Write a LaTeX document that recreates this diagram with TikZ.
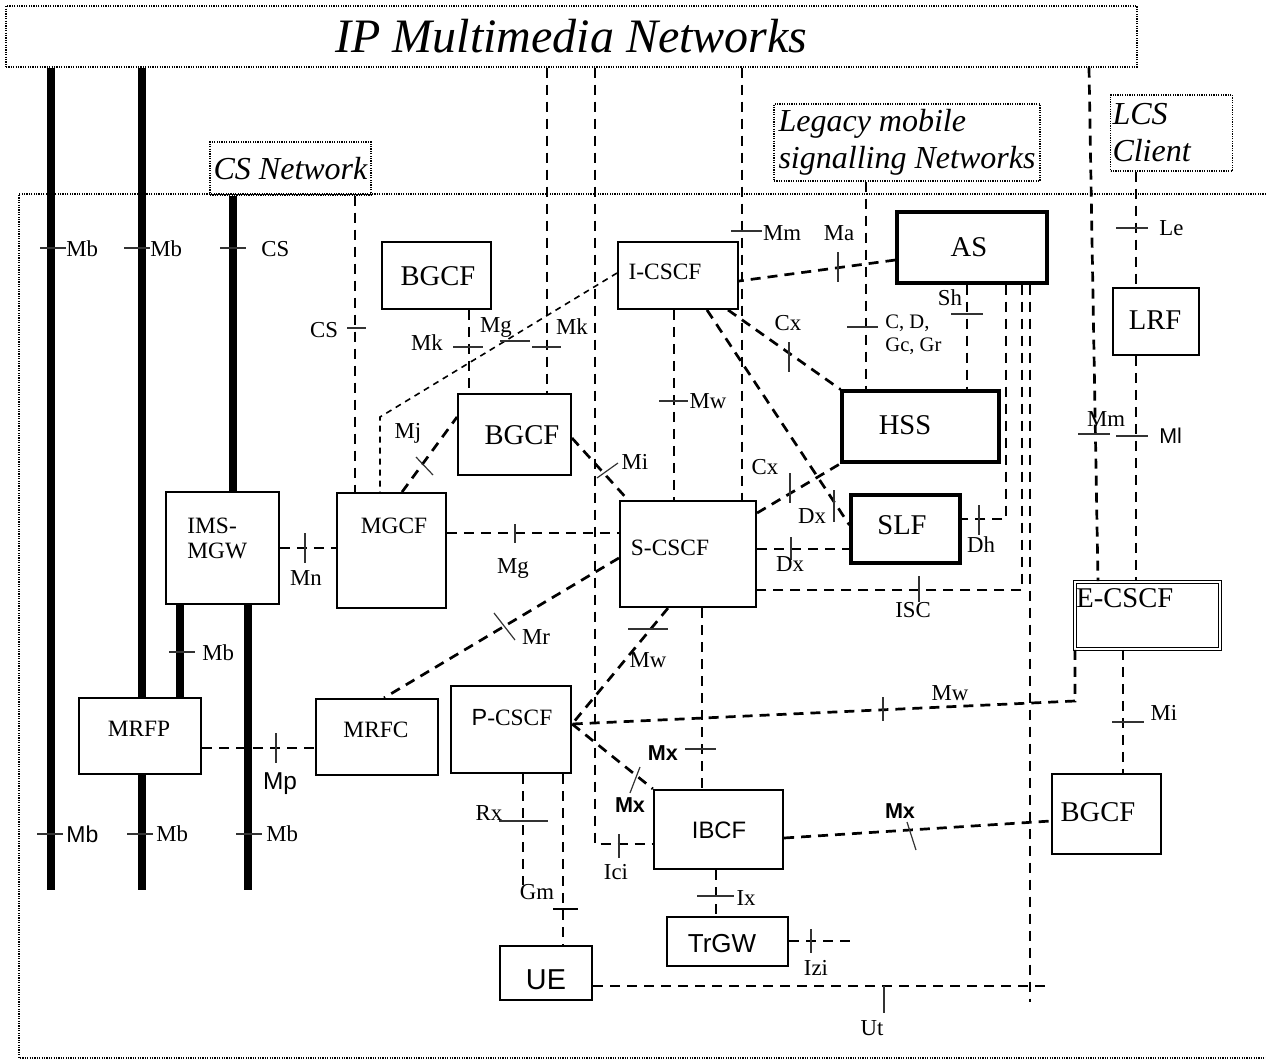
\documentclass[tikz,border=0pt]{standalone}
\usepackage{fontspec}
\setmainfont{Liberation Serif}
\newfontfamily\arialfont{Liberation Sans}
\newcommand\titlefont{\fontsize{24}{28}\selectfont\itshape}
\newcommand\netfont{\fontsize{16}{18.5}\selectfont\itshape}
\newcommand\boxbig{\fontsize{14.3}{16}\selectfont}
\newcommand\boxmed{\fontsize{11.7}{12.5}\selectfont}
\newcommand\smalllab{\fontsize{11.4}{13}\selectfont}
\newcommand\tinylab{\fontsize{10.3}{11.5}\selectfont}
\newcommand\mxfont{\fontsize{10.8}{12}\selectfont\arialfont\bfseries}

\begin{document}
\begin{tikzpicture}[x=0.5pt,y=-0.5pt,
    box/.style={draw,line width=0.95pt,inner sep=0pt},
    thickbox/.style={draw,line width=1.6pt,inner sep=0pt},
    netbox/.style={draw,line width=0.7pt,dash pattern=on 0.6pt off 0.6pt,inner sep=1pt},
    frame/.style={line width=0.7pt,dash pattern=on 0.6pt off 0.6pt},
    bearer/.style={line width=4pt},
    sig/.style={line width=1.35pt,dash pattern=on 5pt off 3.5pt},
    sigthin/.style={line width=0.8pt,dash pattern=on 3pt off 2.5pt},
    tick/.style={line width=0.6pt,black!80},
    lab/.style={font=\smalllab,inner sep=0pt},
    labsf/.style={inner sep=0pt,font=\fontsize{11.5}{13}\selectfont\arialfont},
    labmx/.style={inner sep=0pt,font=\mxfont}]
    \useasboundingbox (0,0) rectangle (1266,1061);

    % networks outside
    \node[netbox,minimum width=565.5pt,minimum height=30.5pt,font=\titlefont] (topnet) at (571.5,36.5) {IP Multimedia Networks};
    \node[netbox,minimum width=80.5pt,minimum height=26.5pt,font=\netfont] (csnet) at (290.5,168.5) {CS Network};
    \node[netbox,minimum width=133pt,minimum height=38.5pt,font=\netfont,align=left] (legacy) at (907,142.5) {Legacy mobile\\signalling Networks};
    \node[netbox,minimum height=38pt,font=\netfont,align=left,text width=59pt] (lcs) at (1171.5,133) {LCS\\Client};
    \draw[frame] (1266,194) -- (19,194) -- (19,1058) -- (1266,1058);

    % functional entities
    \node[box,minimum width=54.5pt,minimum height=33.5pt] (bgcfA) at (436.5,275.5) {};
    \node[box,minimum width=60pt,minimum height=33.5pt] (icscf) at (678,275.5) {};
    \node[thickbox,minimum width=75pt,minimum height=35.5pt] (as) at (972,247.5) {};
    \node[box,minimum width=43pt,minimum height=33.5pt] (lrf) at (1156,321.5) {};
    \node[box,minimum width=56.5pt,minimum height=40.5pt] (bgcfB) at (514.5,434.5) {};
    \node[thickbox,minimum width=78.5pt,minimum height=35.5pt] (hss) at (920.5,426.5) {};
    \node[thickbox,minimum width=54.5pt,minimum height=34pt] (slf) at (905.5,529) {};
    \node[box,minimum width=56.5pt,minimum height=56pt] (imsmgw) at (222.5,548) {};
    \node[box,minimum width=54.5pt,minimum height=57.5pt] (mgcf) at (391.5,550.5) {};
    \node[box,line width=1.1pt,minimum width=68pt,minimum height=53pt] (scscf) at (688,554) {};
    \node[draw,double,line width=0.8pt,double distance=0.8pt,inner sep=0pt,minimum width=72.5pt,minimum height=33.5pt] (ecscf) at (1147.5,615.5) {};
    \node[box,line width=1.1pt,minimum width=61pt,minimum height=38pt] (mrfp) at (140,736) {};
    \node[box,line width=1.1pt,minimum width=61pt,minimum height=38pt] (mrfc) at (377,737) {};
    \node[box,line width=1.1pt,minimum width=60pt,minimum height=43.5pt] (pcscf) at (511,729.5) {};
    \node[box,line width=1.1pt,minimum width=64.5pt,minimum height=39.5pt] (ibcf) at (718.5,829.5) {};
    \node[box,minimum width=54.5pt,minimum height=40pt] (bgcfC) at (1106.5,814) {};
    \node[box,line width=1.1pt,minimum width=60.5pt,minimum height=24.5pt] (trgw) at (727.5,941.5) {};
    \node[box,line width=1.3pt,minimum width=46pt,minimum height=27pt] (ue) at (546,973) {};

    \node[font=\boxbig] (bgcfAt) at (438,276) {BGCF};
    \node[font=\boxmed] (icscft) at (665,272) {I-CSCF};
    \node[font=\boxbig] (ast) at (969,247) {AS};
    \node[font=\boxbig] (lrft) at (1155,320) {LRF};
    \node[font=\boxbig] (bgcfBt) at (522,435) {BGCF};
    \node[font=\boxbig] (hsst) at (905,425) {HSS};
    \node[font=\boxbig] (slft) at (902,525) {SLF};
    \node[font=\boxmed,align=left,anchor=west,inner sep=0pt] (imsmgwt) at (187,538) {IMS-\\MGW};
    \node[font=\boxmed] (mgcft) at (394,526) {MGCF};
    \node[font=\boxmed] (scscft) at (670,548) {S-CSCF};
    \node[font=\boxbig,anchor=west,inner sep=0pt] (ecscft) at (1076,598) {E-CSCF};
    \node[font=\boxmed] (mrfpt) at (139,729) {MRFP};
    \node[font=\boxmed] (mrfct) at (376,730) {MRFC};
    \node[font=\boxmed] (pcscft) at (512,718) {{\arialfont P}-CSCF};
    \node[font=\fontsize{11.9}{13}\selectfont\arialfont] (ibcft) at (719,830) {IBCF};
    \node[font=\boxbig] (bgcfCt) at (1098,812) {BGCF};
    \node[font=\fontsize{13}{15}\selectfont\arialfont] (trgwt) at (722,944) {TrGW};
    \node[font=\fontsize{14.4}{16}\selectfont\arialfont] (uet) at (546,980) {UE};

    % bearer paths
    \coordinate (endA) at (51,890);
    \coordinate (endB) at (142,890);
    \coordinate (endC) at (248,890);
    \draw[bearer] (topnet.south -| endA) -- (endA);
    \draw[bearer] (topnet.south -| endB) -- (mrfp.north -| endB);
    \draw[bearer] (mrfp.south -| endB) -- (endB);
    \draw[bearer] (csnet.south -| 233,0) -- (imsmgw.north -| 233,0);
    \draw[bearer] (imsmgw.south -| 180,0) -- (mrfp.north -| 180,0);
    \draw[bearer] (imsmgw.south -| endC) -- (endC);
    \foreach \x/\y in {53/248,137/248,233/248,182/652,50/834,140/834,249/834}
        \draw[tick] (\x-13,\y) -- (\x+13,\y);
    \node[lab,anchor=west] (lMbA) at (66,249) {Mb};
    \node[lab,anchor=west] (lMbB) at (150,249) {Mb};
    \node[lab,anchor=west] (lCSA) at (261,249) {CS};
    \node[lab,anchor=west] (lMbC) at (202,653) {Mb};
    \node[labsf,anchor=west] (lMbD) at (66,834) {Mb};
    \node[lab,anchor=west] (lMbE) at (156,834) {Mb};
    \node[lab,anchor=west] (lMbF) at (266,834) {Mb};

    % signalling paths
    \coordinate (utend) at (1030,1002);
    \coordinate (utfree) at (1049,986);
    \coordinate (izifree) at (854,941);
    \coordinate (rxfree) at (523,885);
    \draw[sig] (csnet.south -| 355,0) -- (mgcf.north -| 355,0);
    \draw[sig] (bgcfA.south -| 469,0) -- (bgcfB.north -| 469,0);
    \draw[sig] (topnet.south -| 547,0) -- (bgcfB.north -| 547,0);
    \draw[sig] (topnet.south -| 595,0) -- (595,844) -- (ibcf.west |- 0,844);
    \draw[sig] (topnet.south -| 742,0) -- (scscf.north -| 742,0);
    \draw[sig] (legacy.south -| 866,0) -- (hss.north -| 866,0);
    \draw[sig] (topnet.south -| 1089,0) -- (ecscf.north -| 1098,0);
    \draw[sig] (lcs.south -| 1136,0) -- (lrf.north -| 1136,0);
    \draw[sig] (lrf.south -| 1136,0) -- (ecscf.north -| 1136,0);
    \draw[sig] (ecscf.south -| 1123,0) -- (bgcfC.north -| 1123,0);
    \draw[sig] (ecscf.south -| 1075,0) -- (1075,701) -- (pcscf.east |- 0,724);
    \draw[sig] (as.west |- 0,260) -- (icscf.east |- 0,281);
    \draw[sig] (as.south -| 967,0) -- (hss.north -| 967,0);
    \draw[sig] (as.south -| 1006,0) -- (1006,519) -- (slf.east |- 0,519);
    \draw[sig] (as.south -| 1022,0) -- (1022,590) -- (scscf.east |- 0,590);
    \draw[sig] (as.south -| utend) -- (utend);
    \draw[sig] (ue.east |- 0,986) -- (utfree);
    \draw[sig] (icscf.south -| 674,0) -- (scscf.north -| 674,0);
    \draw[sig] (icscf.south -| 728,0) -- (hss.north west);
    \draw[sig] (icscf.south -| 707,0) -- (slf.west |- 0,525);
    \draw[sig] (scscf.east |- 0,513) -- (hss.south west);
    \draw[sig] (scscf.east |- 0,549) -- (slf.west |- 0,549);
    \draw[sig] (mgcf.east |- 0,533) -- (scscf.west |- 0,533);
    \draw[sig] (imsmgw.east |- 0,548) -- (mgcf.west |- 0,548);
    \draw[sig] (bgcfB.east |- 0,438) -- (scscf.north -| 628,0);
    \draw[sig] (mgcf.north -| 402,0) -- (bgcfB.west |- 0,417);
    \draw[sigthin] (icscf.west |- 0,273) -- (380,417) -- (mgcf.north -| 380,0);
    \draw[sig] (scscf.west |- 0,558) -- (mrfc.north -| 384,0);
    \draw[sig] (scscf.south -| 668,0) -- (pcscf.east |- 0,724);
    \draw[sig] (scscf.south -| 702,0) -- (ibcf.north -| 702,0);
    \draw[sig] (pcscf.east |- 0,724) -- (ibcf.north west);
    \draw[sig] (ibcf.east |- 0,838) -- (bgcfC.west |- 0,821);
    \draw[sig] (ibcf.south -| 716,0) -- (trgw.north -| 716,0);
    \draw[sig] (trgw.east |- 0,941) -- (izifree);
    \draw[sig] (mrfp.east |- 0,748) -- (mrfc.west |- 0,748);
    \draw[sig] (pcscf.south -| rxfree) -- (rxfree);
    \draw[sig] (pcscf.south -| 563,0) -- (ue.north -| 563,0);

    % reference points
    \draw[tick] (347,328) -- (366,328);
    \draw[tick] (453,347) -- (483,347);
    \draw[tick] (532,347) -- (561,347);
    \draw[tick] (500,341) -- (530,341);
    \draw[tick] (619,834) -- (619,858);
    \draw[tick] (731,231) -- (762,231);
    \draw[tick] (847,327) -- (878,327);
    \draw[tick] (1078,434) -- (1110,434);
    \draw[tick] (1116,228) -- (1148,228);
    \draw[tick] (1116,436) -- (1148,436);
    \draw[tick] (1112,722) -- (1144,722);
    \draw[tick] (883,697) -- (883,721);
    \draw[tick] (838,252) -- (838,282);
    \draw[tick] (951,314) -- (983,314);
    \draw[tick] (979,505) -- (979,535);
    \draw[tick] (919,576) -- (919,602);
    \draw[tick] (884,986) -- (884,1013);
    \draw[tick] (659,401) -- (688,401);
    \draw[tick] (789,342) -- (789,372);
    \draw[tick] (834,490) -- (834,522);
    \draw[tick] (790,473) -- (790,503);
    \draw[tick] (791,537) -- (791,560);
    \draw[tick] (515,524) -- (515,543);
    \draw[tick] (305,533) -- (305,563);
    \draw[tick] (597,478) -- (618,463);
    \draw[tick] (416,457) -- (433,475);
    \draw[tick] (494,613) -- (515,640);
    \draw[tick] (628,629) -- (668,629);
    \draw[tick] (685,749) -- (716,749);
    \draw[tick] (630,793) -- (640,767);
    \draw[tick] (907,822) -- (916,850);
    \draw[tick] (697,896) -- (734,896);
    \draw[tick] (811,929) -- (811,953);
    \draw[tick] (276,733) -- (276,763);
    \draw[tick] (499,821) -- (548,821);
    \draw[line width=0.9pt] (553,909) -- (578,909);

    \node[lab] (lCSB) at (324,330) {CS};
    \node[lab] (lMkA) at (427,343) {Mk};
    \node[lab] (lMkB) at (572,327) {Mk};
    \node[lab] (lMgA) at (496,327) {Mg};
    \node[lab] (lMj) at (408,433) {Mj};
    \node[lab] (lMiA) at (635,462) {Mi};
    \node[lab] (lMwA) at (708,401) {Mw};
    \node[lab] (lMmA) at (782,233) {Mm};
    \node[lab] (lMa) at (839,233) {Ma};
    \node[font=\tinylab,inner sep=0pt,align=left,anchor=west] (lCD) at (885,335) {C, D,\\Gc, Gr};
    \node[lab] (lSh) at (950,298) {Sh};
    \node[lab] (lCxA) at (788,323) {Cx};
    \node[lab] (lCxB) at (765,467) {Cx};
    \node[lab] (lDxA) at (812,516) {Dx};
    \node[lab] (lDxB) at (790,564) {Dx};
    \node[lab] (lDh) at (981,545) {Dh};
    \node[lab] (lISC) at (913,610) {ISC};
    \node[lab] (lMgB) at (513,568) {Mg};
    \node[lab] (lMn) at (306,578) {Mn};
    \node[lab] (lMr) at (536,637) {Mr};
    \node[lab] (lMwB) at (648,660) {Mw};
    \node[labmx] (lMxA) at (663,753) {Mx};
    \node[labmx] (lMxB) at (630,805) {Mx};
    \node[labmx] (lMxC) at (900,811) {Mx};
    \node[lab] (lMwC) at (950,693) {Mw};
    \node[lab] (lMmB) at (1106,419) {Mm};
    \node[lab,anchor=west] (lLe) at (1159,228) {Le};
    \node[labsf,anchor=west,font=\fontsize{10.7}{12}\selectfont\arialfont] (lMl) at (1159,436) {Ml};
    \node[lab] (lMiB) at (1164,713) {Mi};
    \node[lab] (lIx) at (746,898) {Ix};
    \node[lab] (lIzi) at (816,968) {Izi};
    \node[lab] (lUt) at (872,1028) {Ut};
    \node[lab] (lIci) at (616,872) {Ici};
    \node[lab] (lRx) at (489,813) {Rx};
    \node[lab] (lGm) at (537,892) {Gm};
    \node[labsf,font=\fontsize{12.2}{14}\selectfont\arialfont] (lMp) at (280,784) {Mp};
\end{tikzpicture}
\end{document}
